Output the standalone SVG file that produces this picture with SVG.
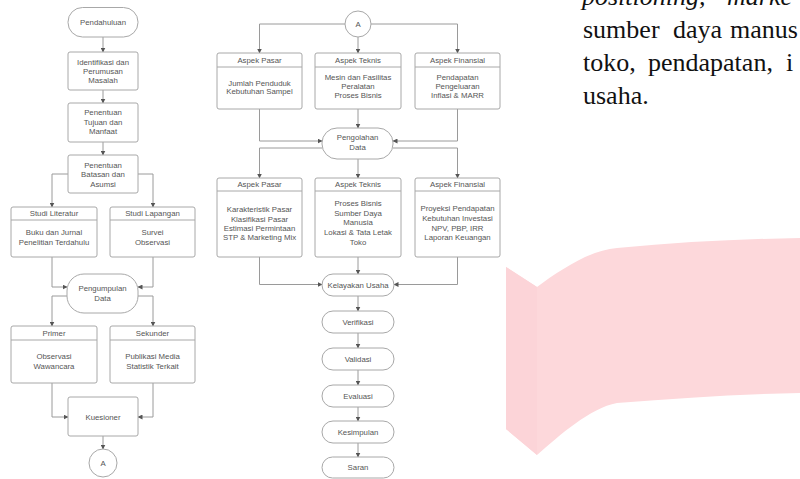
<svg xmlns="http://www.w3.org/2000/svg" width="800" height="479" viewBox="0 0 800 479">
<defs>
<marker id="ah" markerUnits="userSpaceOnUse" markerWidth="5" markerHeight="5" refX="4.5" refY="2.5" orient="auto">
<path d="M0,0 L5,2.5 L0,5 z" fill="#555"/>
</marker>
<style>
.bx{fill:#fff;stroke:#a8a8a8;stroke-width:1}
.hl{stroke:#a8a8a8;stroke-width:1}
.t{font-family:"Liberation Sans",Arial,sans-serif;font-size:7.8px;fill:#555;text-anchor:middle;dominant-baseline:central}
.c{fill:none;stroke:#9a9a9a;stroke-width:1;marker-end:url(#ah)}
.p{font-family:"Liberation Serif","Times New Roman",serif;font-size:26px;fill:#111}
</style>
</defs>
<rect width="800" height="479" fill="#fff"/>

<g id="pink">
<path d="M506,267 L537,287 C560,270 590,250 617,248 C680,242 740,239 800,238 L800,393 C740,394 680,398 617,403 C590,408 560,435 537,455 L506,429 Z" fill="#fdd8db"/>
<path d="M506,267 L537,287 L537,455 L506,429 Z" fill="#fcd4d8"/>
</g>

<g id="paragraph" class="p">
<text x="582" y="5" font-style="italic">positioning,</text>
<text x="727" y="5" font-style="italic">marke</text>
<text x="583" y="38">sumber</text>
<text x="673" y="38">daya</text>
<text x="730" y="38">manus</text>
<text x="583" y="71">toko,</text>
<text x="648" y="71">pendapatan,</text>
<text x="786" y="71">i</text>
<text x="583" y="104">usaha.</text>
</g>

<g id="connectors">
<path class="c" d="M103,37 V52"/>
<path class="c" d="M103,90 V103"/>
<path class="c" d="M103,142 V155"/>
<path class="c" d="M68,174 H52 V207"/>
<path class="c" d="M138,174 H153 V207"/>
<path class="c" d="M52,257 V287 H67"/>
<path class="c" d="M153,257 V287 H138"/>
<path class="c" d="M67,296 H52 V326"/>
<path class="c" d="M138,296 H153 V326"/>
<path class="c" d="M52,383 V417 H68"/>
<path class="c" d="M153,383 V417 H138"/>
<path class="c" d="M103,436 V449"/>

<path class="c" d="M345,24 H259.5 V53"/>
<path class="c" d="M358,37 V53"/>
<path class="c" d="M371,24 H457.5 V53"/>
<path class="c" d="M259.5,109 V141 H322"/>
<path class="c" d="M358,109 V128"/>
<path class="c" d="M457.5,109 V141 H393"/>
<path class="c" d="M322,148 H259.5 V178"/>
<path class="c" d="M358,159 V178"/>
<path class="c" d="M393,148 H457.5 V178"/>
<path class="c" d="M259.5,257 V284.5 H322"/>
<path class="c" d="M358,257 V274"/>
<path class="c" d="M457.5,257 V284.5 H394"/>
<path class="c" d="M358,296 V311"/>
<path class="c" d="M358,333 V348"/>
<path class="c" d="M358,370 V385"/>
<path class="c" d="M358,407 V421"/>
<path class="c" d="M358,443 V457"/>
</g>

<g id="pendahuluan"><rect class="bx" x="68" y="7.5" width="70" height="29.5" rx="14.5"/><text class="t" x="103" y="22">Pendahuluan</text></g>
<g id="identifikasi"><rect class="bx" x="68" y="52" width="70" height="38" rx="2"/><text class="t" x="103" y="62">Identifikasi dan</text><text class="t" x="103" y="71">Perumusan</text><text class="t" x="103" y="80">Masalah</text></g>
<g id="tujuan"><rect class="bx" x="68" y="103" width="70" height="39" rx="2"/><text class="t" x="103" y="112.5">Penentuan</text><text class="t" x="103" y="122">Tujuan dan</text><text class="t" x="103" y="131.5">Manfaat</text></g>
<g id="batasan"><rect class="bx" x="68" y="155" width="70" height="38" rx="2"/><text class="t" x="103" y="165">Penentuan</text><text class="t" x="103" y="174.5">Batasan dan</text><text class="t" x="103" y="184">Asumsi</text></g>

<g id="studi-literatur"><rect class="bx" x="11" y="207" width="86" height="50" rx="2"/><line class="hl" x1="11" y1="220" x2="97" y2="220"/><text class="t" x="54" y="213.5">Studi Literatur</text><text class="t" x="54" y="232">Buku dan Jurnal</text><text class="t" x="54" y="242">Penelitian Terdahulu</text></g>
<g id="studi-lapangan"><rect class="bx" x="110" y="207" width="85" height="50" rx="2"/><line class="hl" x1="110" y1="220" x2="195" y2="220"/><text class="t" x="152.5" y="213.5">Studi Lapangan</text><text class="t" x="152.5" y="232">Survei</text><text class="t" x="152.5" y="242">Observasi</text></g>

<g id="pengumpulan"><rect class="bx" x="67" y="274" width="71" height="39" rx="17"/><text class="t" x="102.5" y="288">Pengumpulan</text><text class="t" x="102.5" y="298">Data</text></g>

<g id="primer"><rect class="bx" x="11" y="326" width="86" height="57" rx="2"/><line class="hl" x1="11" y1="340" x2="97" y2="340"/><text class="t" x="54" y="333">Primer</text><text class="t" x="54" y="356">Observasi</text><text class="t" x="54" y="366">Wawancara</text></g>
<g id="sekunder"><rect class="bx" x="110" y="326" width="85" height="57" rx="2"/><line class="hl" x1="110" y1="340" x2="195" y2="340"/><text class="t" x="152.5" y="333">Sekunder</text><text class="t" x="152.5" y="356">Publikasi Media</text><text class="t" x="152.5" y="366">Statistik Terkait</text></g>

<g id="kuesioner"><rect class="bx" x="68" y="397" width="70" height="39" rx="2"/><text class="t" x="103" y="417">Kuesioner</text></g>
<g id="a-bottom"><circle class="bx" cx="103" cy="463" r="14"/><text class="t" x="103" y="463">A</text></g>

<g id="a-top"><circle class="bx" cx="358" cy="24" r="13"/><text class="t" x="358" y="24">A</text></g>

<g id="pasar1"><rect class="bx" x="217" y="53" width="85" height="56" rx="2"/><line class="hl" x1="217" y1="67" x2="302" y2="67"/><text class="t" x="259.5" y="60">Aspek Pasar</text><text class="t" x="259.5" y="83">Jumlah Penduduk</text><text class="t" x="259.5" y="91.5">Kebutuhan Sampel</text></g>
<g id="teknis1"><rect class="bx" x="315" y="53" width="86" height="56" rx="2"/><line class="hl" x1="315" y1="67" x2="401" y2="67"/><text class="t" x="358" y="60">Aspek Teknis</text><text class="t" x="358" y="77.5">Mesin dan Fasilitas</text><text class="t" x="358" y="86">Peralatan</text><text class="t" x="358" y="95">Proses Bisnis</text></g>
<g id="finansial1"><rect class="bx" x="415" y="53" width="85" height="56" rx="2"/><line class="hl" x1="415" y1="67" x2="500" y2="67"/><text class="t" x="457.5" y="60">Aspek Finansial</text><text class="t" x="457.5" y="77.5">Pendapatan</text><text class="t" x="457.5" y="86">Pengeluaran</text><text class="t" x="457.5" y="95">Inflasi &amp; MARR</text></g>

<g id="pengolahan"><rect class="bx" x="322" y="128" width="71" height="31" rx="15"/><text class="t" x="357.5" y="137.5">Pengolahan</text><text class="t" x="357.5" y="147.5">Data</text></g>

<g id="pasar2"><rect class="bx" x="217" y="178" width="85" height="79" rx="2"/><line class="hl" x1="217" y1="191" x2="302" y2="191"/><text class="t" x="259.5" y="184.5">Aspek Pasar</text><text class="t" x="259.5" y="209">Karakteristik Pasar</text><text class="t" x="259.5" y="219">Klasifikasi Pasar</text><text class="t" x="259.5" y="228">Estimasi Permintaan</text><text class="t" x="259.5" y="237.5">STP &amp; Marketing Mix</text></g>
<g id="teknis2"><rect class="bx" x="315" y="178" width="86" height="79" rx="2"/><line class="hl" x1="315" y1="191" x2="401" y2="191"/><text class="t" x="358" y="184.5">Aspek Teknis</text><text class="t" x="358" y="203.5">Proses Bisnis</text><text class="t" x="358" y="213">Sumber Daya</text><text class="t" x="358" y="222.5">Manusia</text><text class="t" x="358" y="232.5">Lokasi &amp; Tata Letak</text><text class="t" x="358" y="242">Toko</text></g>
<g id="finansial2"><rect class="bx" x="415" y="178" width="85" height="79" rx="2"/><line class="hl" x1="415" y1="191" x2="500" y2="191"/><text class="t" x="457.5" y="184.5">Aspek Finansial</text><text class="t" x="457.5" y="208.5">Proyeksi Pendapatan</text><text class="t" x="457.5" y="218">Kebutuhan Investasi</text><text class="t" x="457.5" y="228">NPV, PBP, IRR</text><text class="t" x="457.5" y="237.5">Laporan Keuangan</text></g>

<g id="kelayakan"><rect class="bx" x="322" y="274" width="72" height="22" rx="11"/><text class="t" x="358" y="285">Kelayakan Usaha</text></g>
<g id="verifikasi"><rect class="bx" x="322" y="311" width="72" height="22" rx="11"/><text class="t" x="358" y="322">Verifikasi</text></g>
<g id="validasi"><rect class="bx" x="322" y="348" width="72" height="22" rx="11"/><text class="t" x="358" y="359">Validasi</text></g>
<g id="evaluasi"><rect class="bx" x="322" y="385" width="72" height="22" rx="11"/><text class="t" x="358" y="396">Evaluasi</text></g>
<g id="kesimpulan"><rect class="bx" x="322" y="421" width="72" height="22" rx="11"/><text class="t" x="358" y="432">Kesimpulan</text></g>
<g id="saran"><rect class="bx" x="322" y="457" width="72" height="21" rx="10.5"/><text class="t" x="358" y="467.5">Saran</text></g>
</svg>
